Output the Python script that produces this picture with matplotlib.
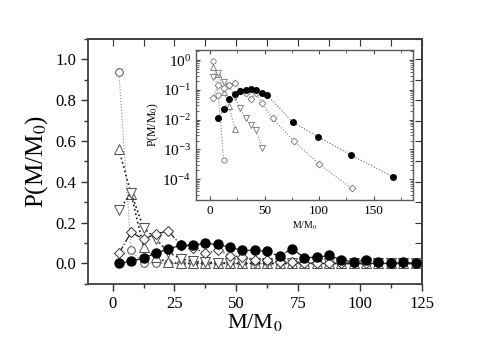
import matplotlib
matplotlib.use("Agg")
import matplotlib.pyplot as plt
from matplotlib.ticker import MultipleLocator, LogLocator, NullFormatter

plt.rcParams['font.family'] = ['Liberation Serif', 'DejaVu Serif']
plt.rcParams['mathtext.fontset'] = 'stix'

# main panel: bins of 5 in M/M0
m_main = [2.5, 7.5, 12.5, 17.5, 22.5, 27.5, 32.5, 37.5, 42.5, 47.5, 52.5, 57.5, 62.5,
          67.5, 72.5, 77.5, 82.5, 87.5, 92.5, 97.5, 102.5, 107.5, 112.5, 117.5, 122.5]
p_circle = [0.94, 0.065, 0.0, 0.0, 0.0, 0.0, 0.0, 0.0, 0.0, 0.0, 0.0, 0.0, 0.0,
            0.0, 0.0, 0.0, 0.0, 0.0, 0.0, 0.0, 0.0, 0.0, 0.0, 0.0, 0.0]
p_triup = [0.56, 0.34, 0.08, 0.03, 0.005, 0.0, 0.0, 0.0, 0.0, 0.0, 0.0, 0.0, 0.0,
           0.0, 0.0, 0.0, 0.0, 0.0, 0.0, 0.0, 0.0, 0.0, 0.0, 0.0, 0.0]
p_tridown = [0.26, 0.345, 0.175, 0.12, 0.055, 0.024, 0.01, 0.006, 0.004, 0.001, 0.0, 0.0, 0.0,
             0.0, 0.0, 0.0, 0.0, 0.0, 0.0, 0.0, 0.0, 0.0, 0.0, 0.0, 0.0]
p_diamond = [0.049, 0.153, 0.119, 0.145, 0.16, 0.09, 0.078, 0.049, 0.066, 0.038, 0.032, 0.016, 0.016,
             0.005, 0.009, 0.003, 0.0, 0.0, 0.0, 0.0, 0.0, 0.0, 0.0, 0.0, 0.0]
p_filled = [0.0, 0.011, 0.026, 0.049, 0.072, 0.088, 0.09, 0.098, 0.093, 0.079, 0.064, 0.065, 0.059,
            0.035, 0.072, 0.029, 0.03, 0.039, 0.019, 0.007, 0.018, 0.007, 0.003, 0.006, 0.003]

# inset (log scale, wider bins in the tail)
mi_circle = [2.5, 7.5, 12.5]
pi_circle = [0.94, 0.068, 4.4e-4]
mi_triup = [2.5, 7.5, 12.5, 17.5, 22.5]
pi_triup = [0.6, 0.34, 0.083, 0.029, 0.005]
mi_tridown = [2.5, 7.5, 12.5, 17.5, 22.5, 27.5, 32.5, 37.5, 42.5, 47.5]
pi_tridown = [0.28, 0.36, 0.19, 0.14, 0.06, 0.025, 0.011, 0.0066, 0.0045, 0.0011]
mi_diamond = [2.5, 7.5, 12.5, 17.5, 22.5, 27.5, 32.5, 37.5, 42.5, 47.5, 57.5, 77, 100, 130]
pi_diamond = [0.053, 0.15, 0.12, 0.147, 0.17, 0.095, 0.08, 0.05, 0.077, 0.036, 0.011, 0.0019,
              3.2e-4, 4.9e-5]
mi_filled = [7.5, 12.5, 17.5, 22.5, 27.5, 32.5, 37.5, 42.5, 47.5, 52.5, 76, 99, 129, 168]
pi_filled = [0.011, 0.022, 0.049, 0.075, 0.09, 0.097, 0.108, 0.1, 0.081, 0.066, 0.0081, 0.0027,
             6.5e-4, 1.2e-4]

fig = plt.figure(figsize=(4.91, 3.42), dpi=100)
ax = fig.add_axes([0.179, 0.170, 0.680, 0.716])

ax.plot(m_main, p_circle, ls=':', lw=0.8, color='0.55', marker='o', ms=5.5,
        mfc='white', mec='0.3', mew=0.7, zorder=3)
ax.plot(m_main, p_triup, ls=':', lw=1.2, color='0.1', marker='^', ms=6.5,
        mfc='white', mec='0.3', mew=0.7, zorder=3)
ax.plot(m_main, p_tridown, ls=':', lw=1.2, color='0.1', marker='v', ms=6.5,
        mfc='white', mec='0.3', mew=0.7, zorder=3)
ax.plot(m_main, p_diamond, ls='-.', lw=0.9, color='0.1', marker='D', ms=5.5,
        mfc='white', mec='0.2', mew=0.7, zorder=4)
ax.plot(m_main, p_filled, ls='-.', lw=0.9, color='0.1', marker='o', ms=6.5,
        mfc='black', mec='black', zorder=5)

ax.set_xlim(-10, 125)
ax.set_ylim(-0.1, 1.1)
ax.xaxis.set_major_locator(MultipleLocator(25))
ax.xaxis.set_minor_locator(MultipleLocator(12.5))
ax.yaxis.set_major_locator(MultipleLocator(0.2))
ax.yaxis.set_minor_locator(MultipleLocator(0.1))
ax.yaxis.set_major_formatter(plt.FuncFormatter(lambda v, p: '%.1f' % v))
ax.tick_params(which='both', direction='out', labelsize=12, width=1.0, color='0.2')
ax.tick_params(which='major', length=5)
ax.tick_params(which='minor', length=3)
for s in ax.spines.values():
    s.set_linewidth(1.3)
    s.set_color('0.25')

top = ax.secondary_xaxis('top')
top.xaxis.set_major_locator(MultipleLocator(12.5))
top.tick_params(direction='in', length=5, labeltop=False, color='0.2')
right = ax.secondary_yaxis('right')
right.yaxis.set_major_locator(MultipleLocator(0.1))
right.tick_params(direction='in', length=5, labelright=False, color='0.2')
for s in list(top.spines.values()) + list(right.spines.values()):
    s.set_linewidth(1.3)
    s.set_color('0.25')

ax.set_xlabel('M/M$_0$', fontsize=16, labelpad=0)
ax.set_ylabel('P(M/M$_0$)', fontsize=18, labelpad=4)

# inset
axi = fig.add_axes([0.399, 0.415, 0.442, 0.439])
gray = '0.45'
axi.plot(mi_circle, pi_circle, ls=':', lw=0.8, color='0.5', marker='o', ms=3.8,
         mfc='white', mec=gray, mew=0.6)
axi.plot(mi_triup, pi_triup, ls=':', lw=0.8, color='0.5', marker='^', ms=4.3,
         mfc='white', mec=gray, mew=0.6)
axi.plot(mi_tridown, pi_tridown, ls=':', lw=0.8, color='0.5', marker='v', ms=4.3,
         mfc='white', mec=gray, mew=0.6)
axi.plot(mi_diamond, pi_diamond, ls=':', lw=0.8, color='0.5', marker='D', ms=3.5,
         mfc='white', mec=gray, mew=0.6)
axi.plot(mi_filled, pi_filled, ls=':', lw=0.8, color='0.4', marker='o', ms=4,
         mfc='black', mec='black', zorder=5)

axi.set_yscale('log')
axi.set_xlim(-13, 186)
axi.set_ylim(2e-5, 2.2)
axi.xaxis.set_major_locator(MultipleLocator(50))
axi.xaxis.set_minor_locator(MultipleLocator(25))
axi.yaxis.set_major_locator(LogLocator(base=10, numticks=10))
axi.yaxis.set_minor_locator(LogLocator(base=10, subs=range(2, 10), numticks=10))
axi.yaxis.set_minor_formatter(NullFormatter())
axi.tick_params(which='both', direction='in', top=True, right=True, labelsize=9.5, color='0.3')
axi.tick_params(axis='y', labelsize=11)
axi.tick_params(which='major', length=3)
axi.tick_params(which='minor', length=2)
for s in axi.spines.values():
    s.set_linewidth(1.0)
    s.set_color('0.35')
axi.set_xlabel('M/M$_0$', fontsize=7, labelpad=2)
axi.set_ylabel('P(M/M$_0$)', fontsize=8.5, labelpad=1)

fig.savefig('out.png', dpi=100)
